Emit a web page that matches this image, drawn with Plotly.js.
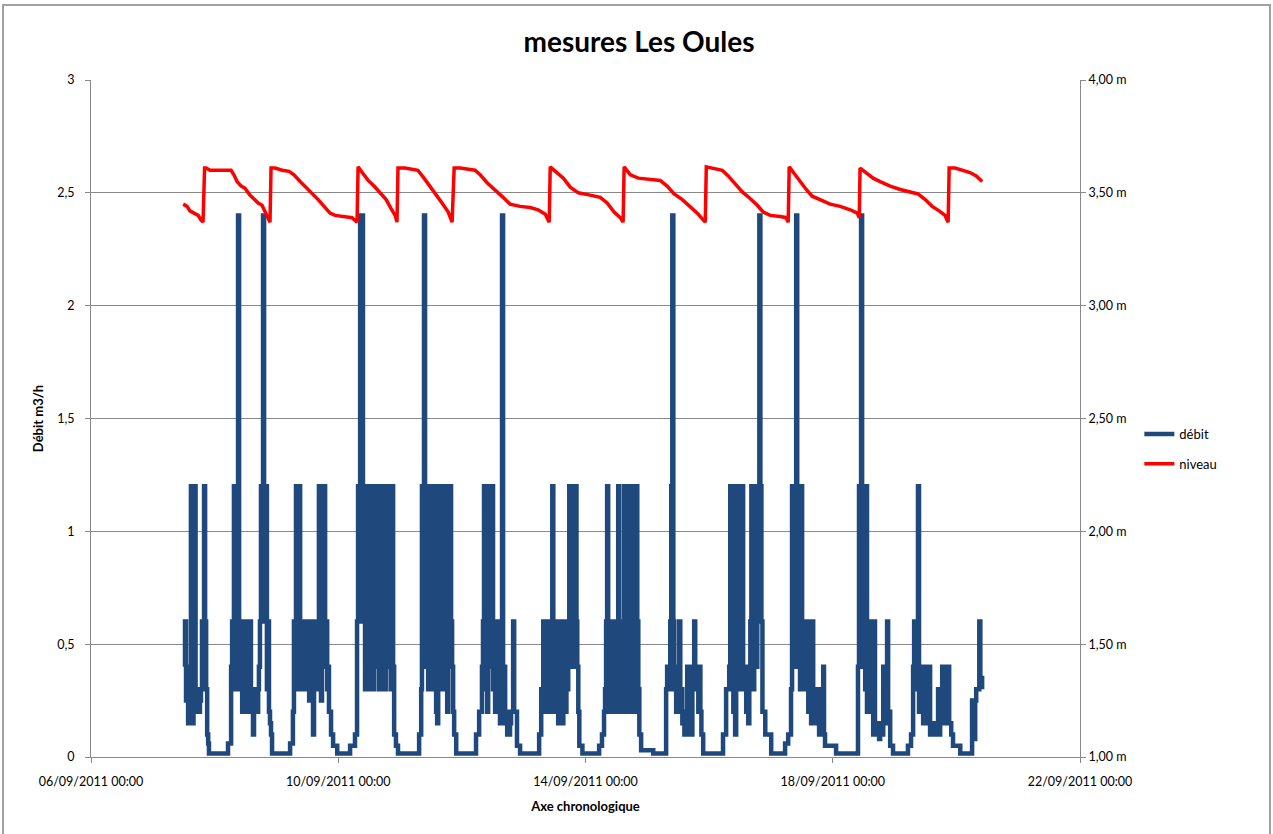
<!DOCTYPE html>
<html><head><meta charset="utf-8">
<script src="https://cdn.plot.ly/plotly-3.0.1.min.js"></script>
<style>html,body{margin:0;padding:0;background:#fff}#chart{width:1273px;height:834px}</style>
</head><body><div id="chart"></div>
<script>
// hours counted from 07/09/2011 00:00
const startDate = Date.UTC(2011, 8, 7);
const axisStart = Date.UTC(2011, 8, 6);
const axisEnd = Date.UTC(2011, 8, 22);

const debitHours = [
12.1,12.5,12.9,13.3,13.7,14.1,14.4,14.8,15.2,15.4,15.6,15.8,16.0,16.4,16.6,16.8,17.2,17.6,17.9,18.3,18.7,19.1,19.5,19.9,20.3,20.7,21.1,21.5,21.8,29.2,30.4,
30.8,31.1,31.5,31.7,31.9,32.1,32.3,32.7,33.1,33.5,33.9,34.3,34.7,35.0,35.4,35.8,36.2,36.6,37.0,37.4,37.7,38.1,38.5,38.9,39.3,39.7,40.1,40.5,40.9,41.2,41.6,42.0,42.4,42.8,43.2,43.6,44.0,44.3,44.7,45.1,45.5,45.9,46.3,53.3,54.4,
54.8,55.2,55.6,56.0,56.4,56.8,57.2,57.5,57.9,58.3,58.7,59.1,59.5,59.9,60.3,60.7,61.0,61.4,61.8,62.2,62.6,63.0,63.4,63.8,64.2,64.5,64.9,65.3,65.7,66.1,66.5,66.9,67.3,67.7,68.0,68.4,69.2,70.0,71.6,76.6,78.5,79.3,
79.7,80.1,80.5,80.9,81.3,81.6,82.0,82.4,82.8,83.2,83.6,84.0,84.3,84.7,85.1,85.5,85.9,86.3,86.7,87.1,87.5,87.8,88.2,88.6,89.0,89.4,89.8,90.2,90.6,91.0,91.3,91.7,92.1,92.5,92.9,93.3,93.7,94.4,95.2,103.4,104.2,
104.5,104.9,105.3,105.7,106.1,106.5,106.9,107.3,107.6,108.0,108.4,108.8,109.2,109.6,110.0,110.4,110.8,111.2,111.5,111.9,112.3,112.7,113.1,113.5,113.9,114.3,114.7,115.0,115.4,115.8,116.2,116.6,117.0,117.8,125.5,126.7,127.8,
128.2,128.6,129.0,129.4,129.8,130.2,130.6,130.9,131.3,131.7,132.1,132.5,132.9,133.3,133.7,134.1,134.5,134.8,135.2,135.6,136.0,136.4,136.8,137.2,137.6,138.0,138.4,138.7,139.1,139.9,140.3,141.4,142.6,150.0,150.8,
151.2,151.6,152.0,152.4,152.8,153.1,153.5,153.9,154.3,154.7,155.1,155.5,155.9,156.3,156.7,157.1,157.4,157.8,158.2,158.6,159.0,159.4,159.8,160.2,160.6,161.3,161.7,162.1,162.5,162.9,163.3,163.7,164.1,164.5,164.8,165.2,165.6,166.8,173.3,174.4,175.2,
175.6,176.0,176.4,176.8,177.2,177.6,177.9,178.3,178.7,179.1,179.5,179.9,180.3,180.7,181.1,181.5,181.8,182.2,182.6,183.0,183.4,183.8,184.2,184.6,185.0,185.4,185.7,186.1,186.5,186.9,187.3,187.7,188.1,188.5,188.9,189.6,194.3,199.3,
199.7,200.1,200.9,201.3,201.7,202.1,202.5,202.8,203.2,203.6,204.0,204.4,204.8,205.2,205.6,206.0,206.4,206.7,207.5,207.9,208.3,208.7,209.1,209.5,209.9,210.2,210.6,211.4,211.8,212.2,212.6,213.0,213.7,221.4,222.6,
223.8,224.2,224.6,225.0,225.4,225.7,226.1,226.5,226.9,227.3,227.7,228.1,228.5,228.9,229.2,229.6,230.0,230.4,230.8,231.2,231.6,232.0,232.4,232.8,233.2,233.5,233.9,234.3,234.7,235.1,235.5,235.9,236.3,236.7,237.8,240.1,245.5,246.7,247.8,
248.2,248.6,249.0,249.4,249.8,250.2,250.6,250.9,251.3,251.7,252.1,252.5,252.9,253.3,253.7,254.1,254.5,254.8,255.2,255.6,256.0,256.4,256.8,257.2,257.6,258.0,258.4,258.7,259.1,259.5,260.3,260.6,261.0,265.3,273.8,
274.2,274.6,275.0,275.4,275.8,276.2,276.6,277.0,277.3,277.7,278.1,278.5,278.9,279.3,279.7,280.1,280.4,280.8,281.6,282.0,282.4,283.2,283.6,284.3,284.7,285.1,285.5,286.3,287.4,293.2,294.4,295.2,
295.6,296.0,296.3,296.7,297.1,297.5,297.9,298.3,298.7,299.1,299.5,299.9,300.2,301.4,301.8,303.3,304.5,304.9,305.3,305.7,306.1,306.5,306.9,307.3,307.6,308.0,308.4,308.8,309.2,310.0,310.7,313.5,318.1,318.5,319.3,319.7,320.9,321.3,322.0
];
const debitValues = [
0.4,0.6,0.25,0.4,0.15,0.3,0.2,1.2,0.25,1.2,0.15,1.2,0.3,1.2,0.2,0.3,0.2,0.3,0.2,0.25,0.3,0.6,0.3,1.2,0.6,0.3,0.1,0.06,0.015,0.06,0.4,
0.6,0.3,1.2,0.4,1.2,0.3,1.2,0.6,2.4,0.6,0.3,0.6,0.2,0.6,0.3,0.6,0.2,0.6,0.3,0.2,0.6,0.25,0.3,0.1,0.3,0.25,0.3,0.2,0.3,0.4,0.6,1.2,0.6,2.4,1.2,0.6,1.2,0.3,0.6,0.2,0.15,0.1,0.015,0.06,0.2,
0.6,0.3,1.2,0.4,0.6,1.2,0.3,0.6,0.4,0.6,0.3,0.4,0.6,0.3,0.6,0.25,0.4,0.3,0.6,0.1,0.4,0.3,0.6,0.3,0.6,1.2,0.6,0.25,1.2,0.6,1.2,0.4,0.6,0.3,0.4,0.2,0.1,0.05,0.015,0.05,0.1,0.6,
1.2,0.6,2.4,1.2,2.4,0.6,1.2,0.3,1.2,0.4,1.2,0.3,1.2,0.6,1.2,0.3,1.2,0.4,1.2,0.6,1.2,0.3,1.2,0.3,1.2,0.6,1.2,0.3,1.2,0.4,1.2,0.6,1.2,0.3,1.2,0.4,0.1,0.05,0.015,0.1,0.3,
1.2,0.6,2.4,1.2,0.4,1.2,0.3,1.2,0.6,1.2,0.3,1.2,0.4,1.2,0.2,0.15,1.2,0.3,1.2,0.6,1.2,0.3,1.2,0.4,1.2,0.2,1.2,0.6,1.2,0.6,0.4,0.2,0.1,0.015,0.1,0.2,0.4,
0.6,1.2,0.3,1.2,0.2,1.2,0.4,1.2,0.6,1.2,0.3,0.6,0.2,0.4,0.6,0.2,0.6,0.15,0.4,2.4,0.2,0.4,0.15,0.2,0.1,0.2,0.1,0.15,0.2,0.6,0.2,0.05,0.015,0.1,0.3,
0.2,0.6,0.3,0.6,0.2,0.6,0.3,0.4,0.2,0.4,1.2,0.3,0.4,0.2,0.6,0.3,0.15,0.4,0.15,0.6,0.15,0.3,0.6,0.2,0.3,0.4,1.2,0.4,1.2,0.6,1.2,0.4,1.2,0.6,0.4,0.2,0.05,0.015,0.05,0.1,0.2,
0.3,0.6,1.2,0.2,0.6,0.3,0.6,0.2,0.6,0.3,0.6,0.2,0.3,1.2,0.2,0.4,0.3,0.2,0.6,1.2,0.3,1.2,0.2,1.2,0.4,1.2,0.2,1.2,0.3,1.2,0.2,1.2,0.6,0.3,0.1,0.03,0.015,0.3,
0.4,0.3,0.6,1.2,2.4,0.6,0.3,0.4,0.2,0.3,0.4,0.6,0.2,0.3,0.15,0.2,0.1,0.2,0.4,0.1,0.15,0.3,0.1,0.4,0.3,0.6,0.3,0.4,0.2,0.4,0.2,0.1,0.015,0.1,0.3,
0.4,1.2,0.3,1.2,0.2,1.2,0.1,1.2,0.4,1.2,0.3,1.2,0.4,1.2,0.4,0.3,0.4,0.2,0.4,0.15,0.3,0.6,1.2,0.4,0.3,0.6,1.2,0.4,1.2,0.6,2.4,1.2,0.6,0.2,0.1,0.015,0.06,0.1,0.3,
1.2,0.4,1.2,0.6,2.4,1.2,0.4,1.2,0.3,1.2,0.4,0.3,0.6,0.3,0.6,0.4,0.2,0.3,0.6,0.15,0.6,0.3,0.2,0.3,0.15,0.3,0.2,0.1,0.2,0.3,0.4,0.1,0.05,0.015,0.4,
1.2,0.6,2.4,1.2,0.4,1.2,0.3,1.2,0.2,0.6,0.2,0.6,0.3,0.6,0.1,0.6,0.15,0.1,0.15,0.08,0.15,0.1,0.4,0.15,0.2,0.6,0.2,0.05,0.015,0.05,0.1,0.4,
0.6,0.3,0.6,0.4,1.2,0.2,0.4,0.2,0.4,0.15,0.4,0.2,0.15,0.4,0.1,0.15,0.1,0.3,0.1,0.3,0.15,0.4,0.15,0.4,0.2,0.4,0.15,0.4,0.15,0.1,0.05,0.015,0.25,0.08,0.25,0.3,0.6,0.35,0.3
];

const niveauHours = [
11.8,13.3,14.4,16.0,17.6,18.7,19.5,20.1,20.7,22.2,28.0,30.4,31.5,32.7,34.3,35.8,37.7,39.3,40.9,42.4,43.6,44.7,45.5,45.9,47.5,50.2,52.9,54.8,57.2,59.5,61.8,64.2,66.5,68.8,70.8,74.6,77.3,79.3,
79.7,81.3,83.6,85.9,88.2,90.6,92.5,94.1,94.8,95.2,97.9,102.9,105.3,107.6,110.0,112.3,114.7,116.2,117.0,119.3,125.1,127.1,129.8,132.9,136.0,138.7,142.6,146.5,149.6,152.4,153.9,
154.3,156.7,159.4,162.1,165.2,169.8,173.7,176.4,179.1,181.5,182.6,183.0,185.4,188.5,193.1,197.0,199.7,202.4,205.6,208.7,211.4,213.7,214.5,214.9,217.2,221.1,223.4,226.1,228.8,231.9,234.7,237.0,239.7,243.6,245.9,246.7,
247.1,249.4,251.3,253.7,256.0,259.1,263.0,266.9,270.8,273.5,274.3,274.6,277.0,279.7,282.4,286.3,290.2,294.0,297.1,299.9,302.6,305.3,307.6,308.8,309.2,311.5,314.6,317.3,319.7,322.0
];
const niveauValues = [
3.45,3.44,3.42,3.41,3.40,3.38,3.37,3.61,3.61,3.60,3.60,3.60,3.58,3.55,3.53,3.52,3.49,3.47,3.455,3.445,3.42,3.39,3.37,3.61,3.61,3.60,3.595,3.58,3.55,3.525,3.495,3.47,3.44,3.41,3.40,3.395,3.39,3.37,
3.615,3.59,3.555,3.53,3.50,3.47,3.43,3.40,3.37,3.61,3.61,3.60,3.565,3.53,3.49,3.455,3.415,3.37,3.61,3.61,3.60,3.58,3.545,3.515,3.48,3.45,3.44,3.435,3.425,3.405,3.37,
3.615,3.59,3.565,3.525,3.50,3.49,3.48,3.455,3.415,3.39,3.37,3.615,3.58,3.565,3.56,3.555,3.53,3.495,3.47,3.44,3.41,3.38,3.37,3.615,3.61,3.60,3.575,3.54,3.505,3.475,3.445,3.415,3.40,3.395,3.39,3.37,
3.615,3.58,3.55,3.515,3.485,3.47,3.45,3.44,3.425,3.41,3.39,3.61,3.59,3.565,3.55,3.53,3.515,3.505,3.495,3.47,3.44,3.42,3.40,3.37,3.61,3.61,3.60,3.59,3.575,3.55
];

const leftTicks = [0, 0.5, 1, 1.5, 2, 2.5, 3];
const leftTickLabels = ['0', '0,5', '1', '1,5', '2', '2,5', '3'];
const rightTicks = [1, 1.5, 2, 2.5, 3, 3.5, 4];
const rightTickLabels = ['1,00 m', '1,50 m', '2,00 m', '2,50 m', '3,00 m', '3,50 m', '4,00 m'];
const seriesNames = ['débit', 'niveau'];

function toTime(h) { return startDate + h * 3600000; }

const gridGray = '#898989';
const fontFam = 'Lato, "Open Sans", sans-serif';

const traces = [
  {
    x: debitHours.map(toTime), y: debitValues, name: seriesNames[0],
    type: 'scatter', mode: 'lines', line: {color: '#1F497D', width: 4.5, shape: 'hv'},
    yaxis: 'y', legendgroup: 'a'
  },
  {
    x: niveauHours.map(toTime), y: niveauValues, name: seriesNames[1],
    type: 'scatter', mode: 'lines', line: {color: '#FF0000', width: 3.5},
    yaxis: 'y2', legendgroup: 'b'
  }
];

const layout = {
  width: 1273, height: 834,
  margin: {l: 91, r: 193, t: 80, b: 77},
  paper_bgcolor: '#ffffff', plot_bgcolor: '#ffffff',
  separators: ', ',
  font: {family: fontFam, size: 12.5, color: '#000'},
  title: {text: '<b>mesures Les Oules</b>', font: {family: fontFam, size: 28, color: '#000'},
          xref: 'container', x: 0.502, yref: 'container', y: 0.949, yanchor: 'middle'},
  xaxis: {
    type: 'date', range: [axisStart, axisEnd], tick0: axisStart, dtick: 4 * 86400000,
    tickformat: '%d/%m/%Y %H:%M', showgrid: false, zeroline: false,
    showline: true, linecolor: gridGray, linewidth: 1,
    ticks: 'outside', ticklen: 5, tickcolor: gridGray, ticklabelstandoff: 8,
    title: {text: '<b>Axe chronologique</b>', font: {size: 13}, standoff: 13},
    automargin: false
  },
  yaxis: {
    range: [0, 3], tickvals: leftTicks, ticktext: leftTickLabels,
    showgrid: true, gridcolor: gridGray, gridwidth: 1,
    zeroline: false, showline: true, linecolor: gridGray, ticks: 'outside', ticklen: 5,
    tickcolor: gridGray, ticklabelstandoff: 8,
    title: {text: '<b>Débit m3/h</b>', font: {size: 13}, standoff: 10},
    automargin: false
  },
  yaxis2: {
    overlaying: 'y', side: 'right', range: [1, 4], tickvals: rightTicks, ticktext: rightTickLabels,
    showgrid: false, zeroline: false,
    showline: true, linecolor: gridGray, ticks: 'outside', ticklen: 5, tickcolor: gridGray,
    automargin: false
  },
  showlegend: true,
  legend: {x: 1.06, xanchor: 'left', y: 0.455, yanchor: 'middle', traceorder: 'grouped',
           tracegroupgap: 10, font: {size: 13}, bgcolor: 'rgba(0,0,0,0)'},
  shapes: [
    {type: 'rect', xref: 'paper', yref: 'paper',
     x0: (3 - 91) / 989, x1: (1270 - 91) / 989, y0: (757 - 860) / 677, y1: (757 - 5) / 677,
     line: {color: '#a0a0a0', width: 2}, fillcolor: 'rgba(0,0,0,0)', layer: 'below'}
  ]
};

Plotly.newPlot('chart', traces, layout, {displayModeBar: false, staticPlot: true});
</script>
</body></html>
